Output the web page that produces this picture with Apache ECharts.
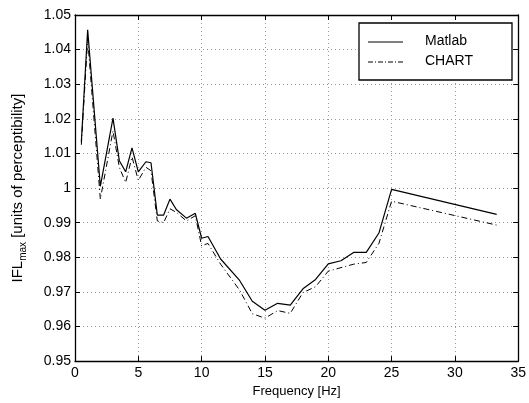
<!DOCTYPE html>
<html>
<head>
<meta charset="utf-8">
<script src="https://cdn.jsdelivr.net/npm/echarts@6/dist/echarts.min.js"></script>
<style>
html,body{margin:0;padding:0;background:#fff;}
#chart{width:529px;height:403px;}
</style>
</head>
<body>
<div id="chart"></div>
<script>
// frequency points [Hz]
var freq = [0.5, 1, 2, 3, 3.5, 4, 4.5, 5, 5.6, 6, 6.5, 7, 7.5, 8, 8.8, 9.5, 10, 10.5, 11.5, 13, 14, 15, 16, 17, 18, 19, 20, 21, 22, 23, 24, 25, 33.3];
var matlab = [1.0133, 1.0457, 1.0005, 1.0202, 1.0079, 1.0047, 1.0116, 1.0047, 1.0076, 1.0073, 0.9922, 0.9922, 0.9968, 0.9938, 0.9913, 0.9927, 0.9855, 0.986, 0.9795, 0.9733, 0.9673, 0.9647, 0.9667, 0.9662, 0.9709, 0.9736, 0.9781, 0.979, 0.9814, 0.9814, 0.987, 0.9996, 0.9924];
var chart = [1.0125, 1.043, 0.9968, 1.0165, 1.006, 1.0016, 1.009, 1.0022, 1.006, 1.005, 0.9905, 0.990, 0.994, 0.993, 0.9905, 0.992, 0.9833, 0.984, 0.978, 0.9705, 0.9637, 0.9624, 0.9646, 0.9638, 0.9698, 0.9715, 0.976, 0.977, 0.978, 0.9785, 0.984, 0.9962, 0.9893];

function pairs(xs, ys){
	var out = [];
	for(var i=0;i<xs.length;i++){
		out.push([xs[i], ys[i]]);
	}
	return out;
}

var font = "Liberation Sans, Arial, sans-serif";
var mychart = echarts.init(document.getElementById('chart'));
var gridLine = {show:true, lineStyle:{color:"#999", type:[1,3], width:1}};
var option = {
	animation:false,
	textStyle:{fontFamily:font},
	grid:{left:75, right:10, top:15, bottom:39},
	xAxis:[{
		type:'value',
		min:0, max:35, interval:5,
		name:'Frequency [Hz]',
		nameLocation:'middle',
		nameGap:23,
		nameTextStyle:{color:"#000", fontSize:13, fontFamily:font},
		axisLine:{show:true, lineStyle:{color:"#000", width:1.3}},
		axisTick:{show:true, inside:true, length:5, lineStyle:{color:"#000"}},
		axisLabel:{color:"#000", fontSize:14, margin:5, fontFamily:font},
		splitLine:gridLine
	},{
		type:'value',
		position:'top',
		min:0, max:35, interval:5,
		axisLine:{show:true, onZero:false, lineStyle:{color:"#000", width:1.3}},
		axisTick:{show:true, inside:true, length:5, lineStyle:{color:"#000"}},
		axisLabel:{show:false},
		splitLine:{show:false}
	}],
	yAxis:[{
		type:'value',
		min:0.95, max:1.05, interval:0.01,
		name:'{n|IFL}{s|max}{n| [units of perceptibility]}',
		nameLocation:'middle',
		nameGap:47,
		nameTextStyle:{
			color:"#000",
			rich:{
				n:{fontSize:15, fontFamily:font, color:"#000", lineHeight:20},
				s:{fontSize:10, fontFamily:font, color:"#000", lineHeight:20, padding:[10,0,0,0]}
			}
		},
		axisLine:{show:true, lineStyle:{color:"#000", width:1.3}},
		axisTick:{show:true, inside:true, length:5, lineStyle:{color:"#000"}},
		axisLabel:{color:"#000", fontSize:14, margin:4, fontFamily:font,
			formatter:function(v){
				var r = Math.round(v*100)/100;
				return r === 1 ? "1" : r.toFixed(2);
			}
		},
		splitLine:gridLine
	},{
		type:'value',
		position:'right',
		min:0.95, max:1.05, interval:0.01,
		axisLine:{show:true, onZero:false, lineStyle:{color:"#000", width:1.3}},
		axisTick:{show:true, inside:true, length:5, lineStyle:{color:"#000"}},
		axisLabel:{show:false},
		splitLine:{show:false}
	}],
	graphic:[
		{type:'rect', shape:{x:359, y:23, width:153, height:57}, style:{fill:"#fff", stroke:"#000", lineWidth:1.3}, z:100},
		{type:'line', shape:{x1:368, y1:42, x2:403, y2:42}, style:{stroke:"#000", lineWidth:1}, z:101},
		{type:'line', shape:{x1:368, y1:62, x2:403, y2:62}, style:{stroke:"#000", lineWidth:1, lineDash:[5,2,1,2]}, z:101},
		{type:'text', x:425, y:34, style:{text:'Matlab', fontSize:14, fontFamily:font, fill:"#000"}, z:101},
		{type:'text', x:425, y:54, style:{text:'CHART', fontSize:14, fontFamily:font, fill:"#000"}, z:101}
	],
	series:[{
		name:'Matlab',
		type:'line',
		showSymbol:false,
		lineStyle:{color:"#000", width:1.2},
		data:pairs(freq, matlab)
	},{
		name:'CHART',
		type:'line',
		showSymbol:false,
		lineStyle:{color:"#000", width:1, type:[6,3,1,3]},
		data:pairs(freq, chart)
	}]
};
mychart.setOption(option);
</script>
</body>
</html>
